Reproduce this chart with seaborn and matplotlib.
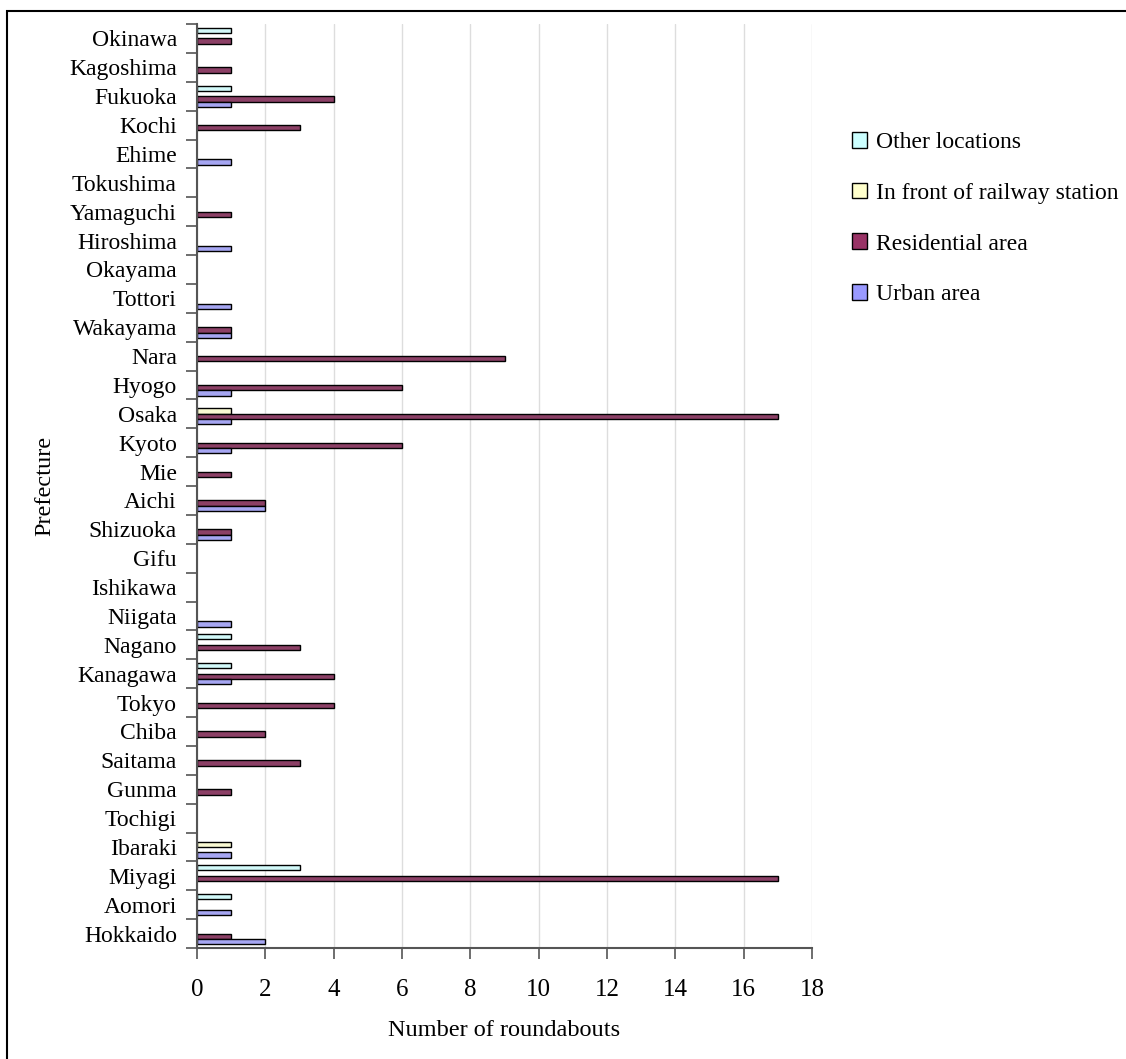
import matplotlib
matplotlib.use("Agg")
import matplotlib.pyplot as plt
import seaborn as sns
import pandas as pd
import numpy as np
from matplotlib.patches import Rectangle, Patch

# Data (bottom-to-top order as it appears in the chart)
prefectures = ["Hokkaido", "Aomori", "Miyagi", "Ibaraki", "Tochigi", "Gunma", "Saitama",
               "Chiba", "Tokyo", "Kanagawa", "Nagano", "Niigata", "Ishikawa", "Gifu",
               "Shizuoka", "Aichi", "Mie", "Kyoto", "Osaka", "Hyogo", "Nara", "Wakayama",
               "Tottori", "Okayama", "Hiroshima", "Yamaguchi", "Tokushima", "Ehime",
               "Kochi", "Fukuoka", "Kagoshima", "Okinawa"]
urban_area = [2, 1, 0, 1, 0, 0, 0, 0, 0, 1, 0, 1, 0, 0, 1, 2, 0, 1, 1, 1, 0, 1,
              1, 0, 1, 0, 0, 1, 0, 1, 0, 0]
residential_area = [1, 0, 17, 0, 0, 1, 3, 2, 4, 4, 3, 0, 0, 0, 1, 2, 1, 6, 17, 6, 9, 1,
                    0, 0, 0, 1, 0, 0, 3, 4, 1, 1]
railway_station = [0, 0, 0, 1, 0, 0, 0, 0, 0, 0, 0, 0, 0, 0, 0, 0, 0, 0, 1, 0, 0, 0,
                   0, 0, 0, 0, 0, 0, 0, 0, 0, 0]
other_locations = [0, 1, 3, 0, 0, 0, 0, 0, 0, 1, 1, 0, 0, 0, 0, 0, 0, 0, 0, 0, 0, 0,
                   0, 0, 0, 0, 0, 0, 0, 1, 0, 1]
series_names = ["Other locations", "In front of railway station", "Residential area", "Urban area"]
series_colors = ["#CCFFFF", "#FFFFCC", "#993366", "#9999FF"]
x_ticks = [0, 2, 4, 6, 8, 10, 12, 14, 16, 18]

values = {
    "Other locations": other_locations,
    "In front of railway station": railway_station,
    "Residential area": residential_area,
    "Urban area": urban_area,
}
rows = []
for name in series_names:
    for p, v in zip(prefectures, values[name]):
        rows.append({"Prefecture": p, "Location": name, "Count": v})
df = pd.DataFrame(rows)

sns.set_theme(style="white")
plt.rcParams["font.family"] = ["Liberation Serif", "DejaVu Serif"]
plt.rcParams["text.color"] = "black"
plt.rcParams["xtick.labelcolor"] = "black"
plt.rcParams["ytick.labelcolor"] = "black"

fig = plt.figure(figsize=(11.26, 10.59), dpi=100)
ax = fig.add_axes([197 / 1126, 1 - 948 / 1059, (812 - 197) / 1126, (948 - 24) / 1059])

order = prefectures[::-1]
sns.barplot(data=df, x="Count", y="Prefecture", hue="Location", order=order,
            hue_order=series_names, palette=series_colors, orient="h",
            width=0.74, edgecolor="black", linewidth=1.0, ax=ax, legend=False,
            errorbar=None)

for p in ax.patches:
    if p.get_width() == 0:
        p.set_visible(False)

ax.set_xlim(0, 18)
ax.set_xticks(x_ticks)
ax.set_xticklabels([str(t) for t in x_ticks], fontsize=18, color="black")
ax.grid(axis="x", color="#dddddd", linewidth=1)
ax.grid(axis="y", visible=False)
ax.set_axisbelow(True)

n = len(order)
ax.set_ylim(n - 0.5, -0.5)
ax.set_yticks(range(n))
ax.set_yticklabels(order, fontsize=17, color="black")
ax.set_yticks(np.arange(-0.5, n, 1.0), minor=True)
ax.tick_params(axis="y", which="major", length=0, pad=14.5)
ax.tick_params(axis="y", which="minor", length=8, width=1.2, color="#555555", direction="out", left=True)
ax.tick_params(axis="x", which="major", length=8, width=1.2, color="#555555", direction="out", bottom=True, pad=14)

for s in ["top", "right"]:
    ax.spines[s].set_visible(False)
for s in ["left", "bottom"]:
    ax.spines[s].set_color("#555555")
    ax.spines[s].set_linewidth(1.5)

ax.set_xlabel("")
ax.set_ylabel("")
fig.text(504 / 1126, 1 - 1031 / 1059, "Number of roundabouts", ha="center", va="center", fontsize=17.5, color="black")
fig.text(45 / 1126, 1 - 486 / 1059, "Prefecture", ha="center", va="center", rotation=90, fontsize=17.5, color="black")

handles = [Patch(facecolor=c, edgecolor="black", linewidth=1.0) for c in series_colors]
fig.legend(handles, series_names, loc="upper left", bbox_to_anchor=(852 / 1126, 1 - 132 / 1059),
           frameon=False, fontsize=17, handlelength=0.65, handleheight=0.65, handletextpad=0.35,
           labelspacing=1.25, borderpad=0, borderaxespad=0, labelcolor="black")

fig.patches.append(Rectangle((7 / 1126, -0.05), 1.2, 1 - 11 / 1059 + 0.05, transform=fig.transFigure,
                             fill=False, edgecolor="black", linewidth=1.5))

fig.savefig("out.png", dpi=100)
